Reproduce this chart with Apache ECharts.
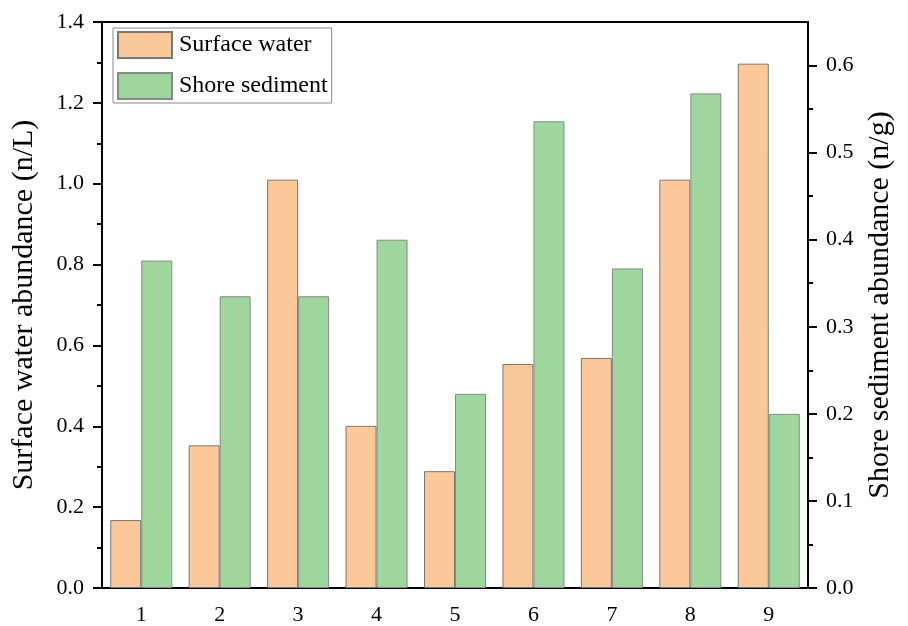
<!DOCTYPE html>
<html><head><meta charset="utf-8">
<script src="https://cdn.jsdelivr.net/npm/echarts@6/dist/echarts.min.js"></script>
<style>html,body{margin:0;padding:0;background:#fff}#c{width:908px;height:626px}</style>
</head><body><div id="c"></div>
<script>
const categories = ['1','2','3','4','5','6','7','8','9'];
const surfaceWater = [0.168, 0.353, 1.01, 0.401, 0.289, 0.554, 0.569, 1.01, 1.297];
const shoreSediment = [0.376, 0.335, 0.335, 0.400, 0.223, 0.536, 0.367, 0.568, 0.200];
const leftTicks = [0, 0.2, 0.4, 0.6, 0.8, 1.0, 1.2, 1.4];
const rightTicks = [0, 0.1, 0.2, 0.3, 0.4, 0.5, 0.6];
const rightMinor = [0.05, 0.15, 0.25, 0.35, 0.45, 0.55];

const FONT = 'Liberation Serif';
const chart = echarts.init(document.getElementById('c'));
const lineStyle = {color: '#000', width: 2};
chart.setOption({
  animation: false,
  backgroundColor: '#fff',
  textStyle: {fontFamily: FONT, color: '#000'},
  grid: {left: 102, right: 100, top: 22, bottom: 37, show: true, borderColor: '#000', borderWidth: 2},
  legend: {
    orient: 'vertical', left: 113, top: 28, itemWidth: 54, itemHeight: 26, itemGap: 13,
    padding: [3, 4, 3, 4], borderColor: '#888', borderWidth: 1, icon: 'rect',
    textStyle: {fontFamily: FONT, fontSize: 24, color: '#000', padding: [0,0,0,2]},
    data: ['Surface water', 'Shore sediment']
  },
  xAxis: [{
    type: 'category', data: categories, position: 'bottom',
    axisLine: {lineStyle: lineStyle},
    axisTick: {alignWithLabel: true, length: 9, lineStyle: lineStyle},
    axisLabel: {fontFamily: FONT, fontSize: 22, color: '#000', margin: 16}
  }, {
    type: 'category', data: categories, position: 'bottom',
    axisLine: {show: false},
    axisTick: {alignWithLabel: false, length: 5, lineStyle: lineStyle},
    axisLabel: {show: false}
  }],
  yAxis: [{
    type: 'value', position: 'left', min: 0, max: 1.4, interval: 0.2,
    name: 'Surface water abundance (n/L)', nameLocation: 'middle', nameGap: 63,
    nameTextStyle: {fontFamily: FONT, fontSize: 30, color: '#000'},
    axisLine: {show: true, lineStyle: lineStyle},
    axisTick: {show: true, length: 9, lineStyle: lineStyle},
    minorTick: {show: true, splitNumber: 2, length: 5, lineStyle: lineStyle},
    splitLine: {show: false},
    axisLabel: {fontFamily: FONT, fontSize: 22, color: '#000', margin: 18, formatter: v => v.toFixed(1)}
  }, {
    type: 'value', position: 'right', min: 0, max: 0.65,
    name: 'Shore sediment abundance (n/g)', nameLocation: 'middle', nameGap: 57, nameRotate: 90,
    nameTextStyle: {fontFamily: FONT, fontSize: 30, color: '#000'},
    axisLine: {show: true, lineStyle: lineStyle},
    axisTick: {show: true, length: 9, lineStyle: lineStyle, customValues: rightTicks},
    splitLine: {show: false},
    axisLabel: {fontFamily: FONT, fontSize: 22, color: '#000', margin: 18, customValues: rightTicks, formatter: v => v.toFixed(1)}
  }, {
    type: 'value', position: 'right', min: 0, max: 0.65,
    axisLine: {show: false},
    axisTick: {show: true, length: 5, lineStyle: lineStyle, customValues: rightMinor},
    splitLine: {show: false},
    axisLabel: {show: false}
  }],
  series: [{
    name: 'Surface water', type: 'bar', xAxisIndex: 0, yAxisIndex: 0, data: surfaceWater,
    barWidth: 31, barGap: '0%',
    itemStyle: {color: '#FBC899', borderColor: '#777', borderWidth: 1}
  }, {
    name: 'Shore sediment', type: 'bar', xAxisIndex: 0, yAxisIndex: 1, data: shoreSediment,
    barWidth: 31, barGap: '0%',
    itemStyle: {color: '#9ED69D', borderColor: '#888', borderWidth: 1}
  }]
});
</script></body></html>
